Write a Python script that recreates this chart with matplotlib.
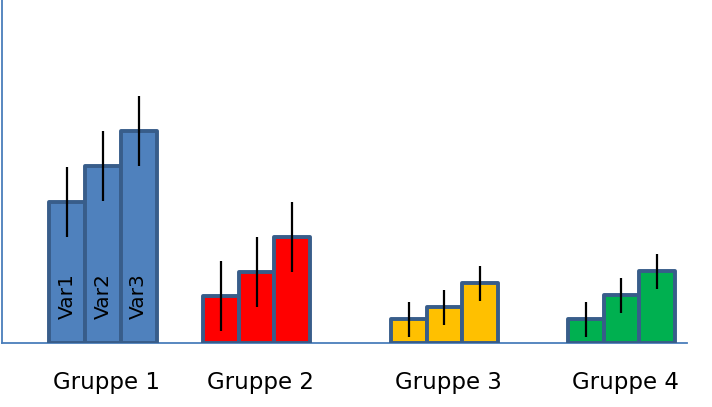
import numpy as np
import matplotlib.pyplot as plt
import matplotlib.transforms as mtransforms

# Daten
gruppen = ['Gruppe 1', 'Gruppe 2', 'Gruppe 3', 'Gruppe 4']
variablen = ['Var1', 'Var2', 'Var3']

werte_var1 = [14.1, 4.7, 2.4, 2.4]
werte_var2 = [17.7, 7.1, 3.6, 4.8]
werte_var3 = [21.2, 10.6, 6.0, 7.2]

fehler_var1 = [3.5, 3.5, 1.75, 1.75]
fehler_var2 = [3.5, 3.5, 1.75, 1.75]
fehler_var3 = [3.5, 3.5, 1.75, 1.75]

farben = ['#4F81BD', '#FF0000', '#FFC000', '#00B050']

# Layout
gruppen_pos = np.array([101, 254.5, 442.5, 619.5])
breite = 35.7

fig = plt.figure(figsize=(7.12, 4.07), dpi=100)
ax = fig.add_axes([2 / 712, 64 / 407, 685 / 712, 343 / 407])

werte = [werte_var1, werte_var2, werte_var3]
fehler = [fehler_var1, fehler_var2, fehler_var3]

for i, (w, f) in enumerate(zip(werte, fehler)):
    x = gruppen_pos + (i - 1) * breite
    ax.bar(x, w, width=breite, color=farben, edgecolor='#385D8A',
           linewidth=2.8, joinstyle='round', zorder=3)
    ax.errorbar(x, w, yerr=f, fmt='none', ecolor='black',
                elinewidth=1.6, capsize=0, zorder=4)
    # Beschriftung in den Balken der ersten Gruppe
    ax.annotate(variablen[i], xy=(x[0], 0), xytext=(0, 17),
                textcoords='offset points', rotation=90,
                ha='center', va='bottom', fontsize=14.5, color='black',
                zorder=5)

ax.set_xlim(0, 685)
ax.set_ylim(0, 34.3)

ax.set_xticks(gruppen_pos)
ax.set_xticklabels(gruppen, fontsize=16.5)
ax.tick_params(axis='x', length=0, pad=20)
ax.set_yticks([])

# Gruppenbeschriftung leicht nach rechts schieben
versatz = mtransforms.ScaledTranslation(4 / 100, 0, fig.dpi_scale_trans)
for lbl in ax.get_xticklabels():
    lbl.set_transform(lbl.get_transform() + versatz)

for s in ['top', 'right']:
    ax.spines[s].set_visible(False)
for s in ['left', 'bottom']:
    ax.spines[s].set_color('#4A7EBB')
    ax.spines[s].set_linewidth(1.3)

fig.savefig('out.png', dpi=100)
